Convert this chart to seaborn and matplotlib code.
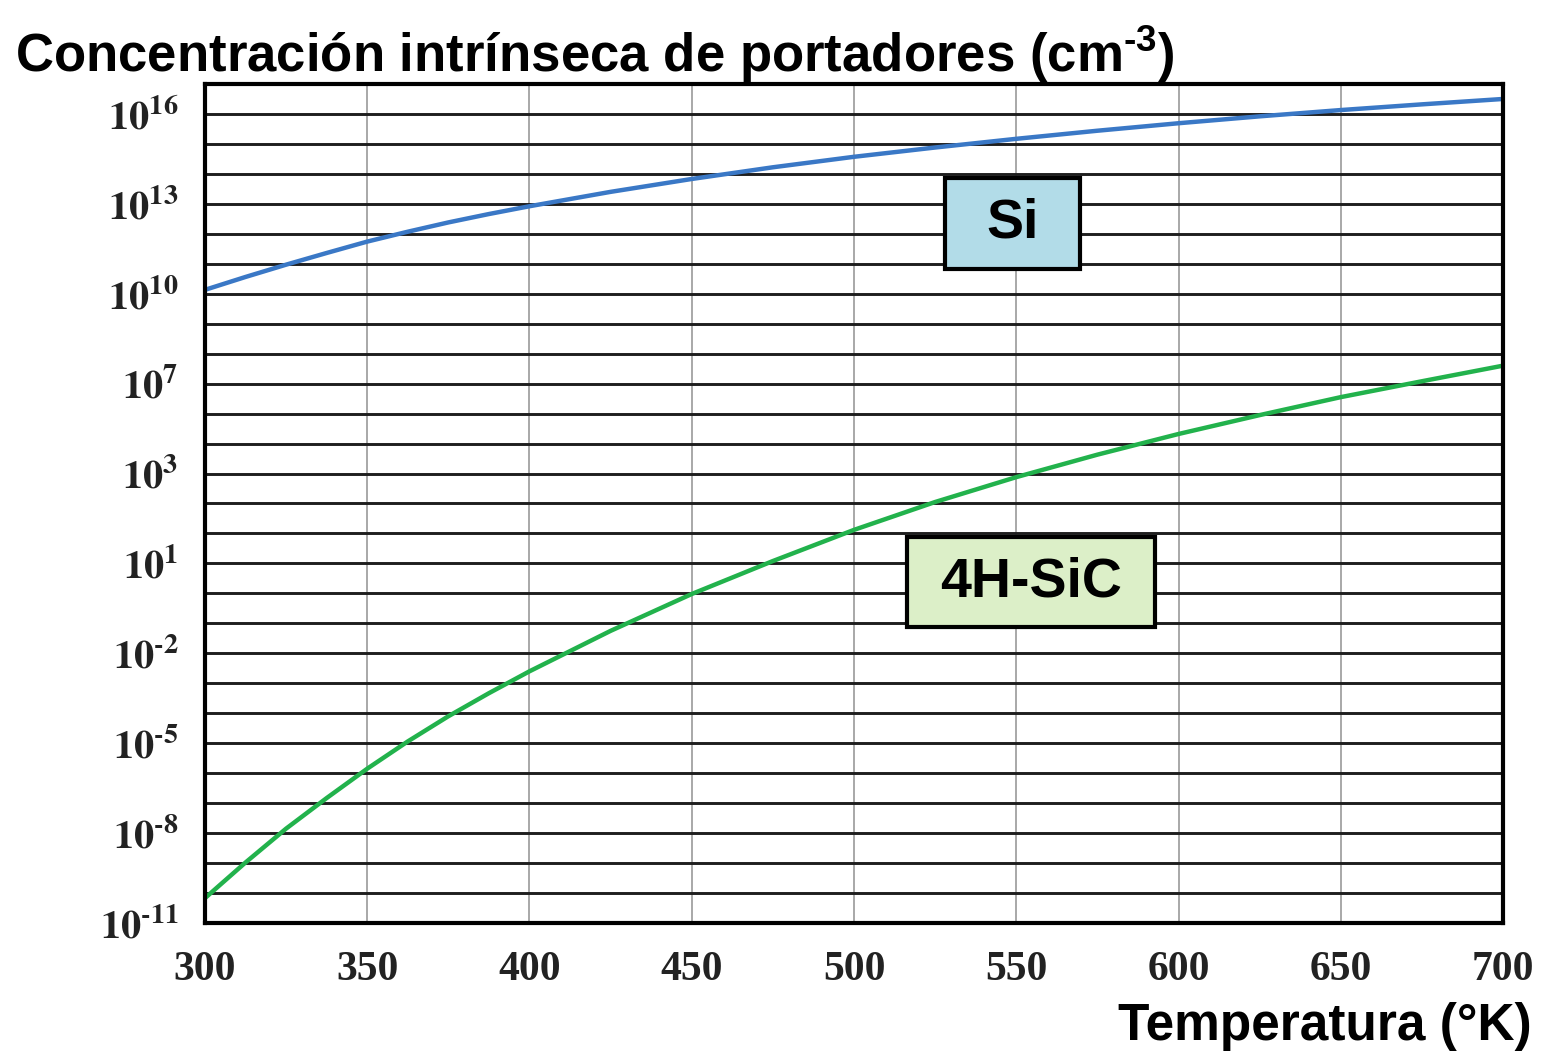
import numpy as np
import pandas as pd
import matplotlib
matplotlib.use("Agg")
import matplotlib.pyplot as plt
from matplotlib.patches import Rectangle
import seaborn as sns
from matplotlib.ticker import FixedLocator, FixedFormatter, NullLocator

# ---- data ----
temperature = [300, 312.5, 325, 337.5, 350, 362.5, 375, 387.5, 400, 425, 450, 475, 500,
               525, 550, 575, 600, 625, 650, 675, 700]
si_log10 = [10.13, 10.56, 10.97, 11.36, 11.74, 12.07, 12.38, 12.66, 12.92, 13.4, 13.83, 14.22, 14.57,
            14.88, 15.17, 15.44, 15.69, 15.92, 16.13, 16.32, 16.5]
sic_log10 = [-10.17, -8.98, -7.85, -6.83, -5.85, -4.94, -4.1, -3.33, -2.6, -1.25, -0.02, 1.08, 2.12,
             3.05, 3.88, 4.63, 5.32, 5.95, 6.55, 7.08, 7.6]
series_names = ["Si", "4H-SiC"]
ytick_exponents = [16, 13, 10, 7, 4, 1, -2, -5, -8, -11]
ytick_labels = ["16", "13", "10", "7", "3", "1", "\u20102", "\u20105", "\u20108", "\u201011"]
xticks = [300, 350, 400, 450, 500, 550, 600, 650, 700]

df = pd.DataFrame({
    "T": temperature * 2,
    "n": list(10.0 ** np.array(si_log10)) + list(10.0 ** np.array(sic_log10)),
    "mat": [series_names[0]] * len(temperature) + [series_names[1]] * len(temperature),
})

sns.set_style("white")
plt.rcParams["font.family"] = ["Liberation Sans", "DejaVu Sans"]
plt.rcParams["text.color"] = "black"
plt.rcParams["mathtext.fontset"] = "custom"
plt.rcParams["mathtext.bf"] = "Liberation Sans:bold"
plt.rcParams["mathtext.rm"] = "Liberation Sans:bold"

fig = plt.figure(figsize=(15.41, 10.55), dpi=100)
ax = fig.add_axes([0.133, 0.1251, 0.8424, 0.7953])

palette = {"Si": "#3A78C6", "4H-SiC": "#22B24C"}
sns.lineplot(data=df, x="T", y="n", hue="mat", palette=palette, linewidth=3.2,
             ax=ax, legend=False, sort=True)
ax.set_yscale("log")
ax.set_xlim(300, 700)
ax.set_ylim(1e-11, 1e17)

# grid: every decade horizontally, every 50 K vertically
decades = list(range(-11, 17))
ax.yaxis.set_major_locator(FixedLocator([10.0 ** d for d in decades]))
lab_map = dict(zip(ytick_exponents, ytick_labels))
ylabs = [(r"$\mathbf{10^{%s}}$" % lab_map[d]) if d in lab_map else "" for d in decades]
ax.yaxis.set_major_formatter(FixedFormatter(ylabs))
ax.yaxis.set_minor_locator(NullLocator())
ax.set_xticks(xticks)
ax.set_xticklabels([str(t) for t in xticks])
ax.grid(axis="y", color="#1e1e1e", linewidth=2.1)
ax.grid(axis="x", color="#9a9a9a", linewidth=1.2)
ax.set_axisbelow(True)
for l in ax.get_lines():
    l.set_zorder(3)

for s in ax.spines.values():
    s.set_color("black")
    s.set_linewidth(3.0)
    s.set_zorder(4)

ax.tick_params(axis="both", which="major", direction="out", length=5, width=1.2, color="#777777")
ax.tick_params(axis="y", pad=14)
ax.tick_params(axis="x", pad=15)
for lab in ax.get_xticklabels():
    lab.set_fontfamily("Liberation Serif")
    lab.set_fontweight("bold")
    lab.set_fontsize(30)
    lab.set_color("#222222")
for lab in ax.get_yticklabels():
    lab.set_math_fontfamily("stix")
    lab.set_fontsize(29)
    lab.set_color("#222222")

ax.set_xlabel("")
ax.set_ylabel("")

# labelled boxes (position in data x / decade y)
boxes = [
    ("Si", 528.0, 569.6, 10.83, 13.87, "#B2DCE8"),
    ("4H-SiC", 516.3, 592.8, -1.13, 1.87, "#DCEFC8"),
]
for name, x0, x1, e0, e1, fc in boxes:
    ax.add_patch(Rectangle((x0, 10 ** e0), x1 - x0, 10 ** e1 - 10 ** e0,
                           facecolor=fc, edgecolor="black", linewidth=3, zorder=5))
    ax.text((x0 + x1) / 2, 10 ** ((e0 + e1) / 2), name, fontsize=40, fontweight="bold",
            ha="center", va="center", color="black", zorder=6)

fig.text(0.0097, 0.932, "Concentración intrínseca de portadores (cm$^{\\mathbf{\u20103}}$)",
         fontsize=38, fontweight="bold", ha="left", va="baseline", color="black")
fig.text(0.994, 0.0142, "Temperatura (°K)", fontsize=37, fontweight="bold",
         ha="right", va="baseline", color="black")

fig.savefig("out.png", dpi=100)
